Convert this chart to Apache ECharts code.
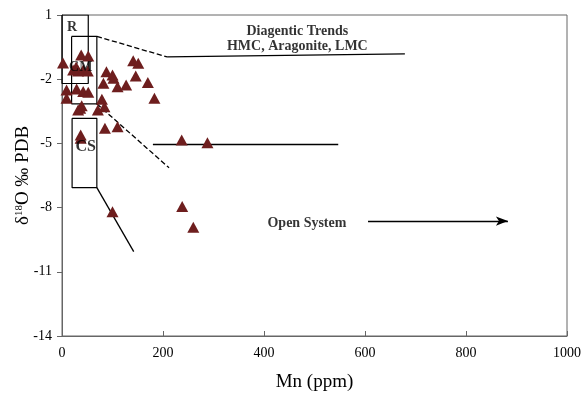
<!DOCTYPE html>
<html><head><meta charset="utf-8">
<script src="https://cdn.jsdelivr.net/npm/echarts@6/dist/echarts.min.js"></script>
<style>html,body{margin:0;padding:0;background:#fff}#c{width:582px;height:396px}</style>
</head><body><div id="c"></div>
<script>
// Mn (ppm) vs d18O (permil PDB)
var mnValues = [2,38,52,22,32,42,51,28,88,100,102,82,110,127,141,151,146,170,183,79,84,9,29,42,52,9,36,39,32,71,85,110,37,37,237,288,100,238,260];
var d18OValues = [-1.24,-0.87,-0.92,-1.57,-1.62,-1.57,-1.62,-1.43,-1.65,-1.8,-1.96,-2.19,-2.35,-2.27,-1.14,-1.26,-1.85,-2.16,-2.89,-2.94,-3.29,-2.5,-2.46,-2.58,-2.61,-2.89,-3.36,-3.24,-3.44,-3.44,-4.29,-4.22,-4.61,-4.76,-4.84,-4.97,-8.19,-7.95,-8.92];
var xTicks = [0,200,400,600,800,1000];
var yTicks = [1,-2,-5,-8,-11,-14];

// annotation boxes [x1,y1,x2,y2]
var boxR = [0,1,52,-2.2];
var boxCM = [19,0,69,-3.15];
var boxCS = [20,-3.83,69,-7.07];
// annotation segments [x1,y1,x2,y2]
var dashedUpper = [69,0,208,-0.96];
var solidUpper = [208,-0.96,679,-0.82];
var dashedLower = [69,-3.15,212,-6.14];
var solidMiddle = [180,-5.05,547,-5.05];
var solidLower = [69,-7.07,142,-10.06];
var arrowOpen = [606,-8.63,883,-8.63];
// text labels [x,y,text]
var labelR = [20,0.44,'R'];
var labelCM = [37,-1.45,'CM'];
var labelCS = [47,-5.17,'CS'];
var labelTrend1 = [466,0.25,'Diagentic Trends'];
var labelTrend2 = [466,-0.45,'HMC, Aragonite, LMC'];
var labelOpen = [485,-8.72,'Open System'];

var F = 'Liberation Serif';
function boxPath(b){return [[b[0],b[1]],[b[2],b[1]],[b[2],b[3]],[b[0],b[3]],[b[0],b[1]]];}
function boxSeries(b){return {type:'line',data:boxPath(b),symbol:'none',silent:true,z:3,lineStyle:{color:'#000',width:1.2},animation:false};}
function seg(s,type,arrow){
  return [{coord:[s[0],s[1]],symbol:'none',lineStyle:{type:type,color:'#000',width:1.3}},{coord:[s[2],s[3]],symbol:arrow?'arrow':'none',symbolSize:arrow?[7,12]:0}];
}
function textSeries(l,size,bold){
  return {type:'scatter',data:[[l[0],l[1]]],symbolSize:0,silent:true,z:10,animation:false,
    label:{show:true,position:'inside',formatter:l[2],fontFamily:F,fontSize:size,fontWeight:bold?'bold':'normal',color:'#000'}};
}
var pts = mnValues.map(function(v,i){return [v,d18OValues[i]];});

var chart = echarts.init(document.getElementById('c'),null,{renderer:'canvas'});
chart.setOption({
  animation:false,
  grid:{left:62,right:15,top:15,bottom:60,containLabel:false,outerBoundsMode:'none',show:true,borderColor:'#666',borderWidth:1,backgroundColor:'transparent'},
  xAxis:{type:'value',min:0,max:1000,interval:200,
    name:'Mn (ppm)',nameLocation:'middle',nameGap:37,nameMoveOverlap:false,nameTextStyle:{fontFamily:F,fontSize:19,color:'#000'},
    axisLine:{onZero:false,lineStyle:{color:'#666'}},axisTick:{inside:true,length:5,lineStyle:{color:'#666'}},
    splitLine:{show:false},axisLabel:{margin:10,fontFamily:F,fontSize:14,color:'#000',
      formatter:function(v){return xTicks.indexOf(v)>=0?String(v):'';}}},
  yAxis:{type:'value',min:-14,max:1,interval:3,
    name:'{a|δ}{s|18}{a|O ‰ PDB}',nameLocation:'middle',nameGap:29,nameRotate:90,nameMoveOverlap:false,
    nameTextStyle:{fontFamily:F,fontSize:19,color:'#000',
      rich:{a:{fontFamily:F,fontSize:19,color:'#000'},s:{fontFamily:F,fontSize:11,color:'#000',verticalAlign:'bottom',padding:[0,0,8,0]}}},
    axisLine:{onZero:false,lineStyle:{color:'#666'}},axisTick:{length:5,lineStyle:{color:'#666'}},
    splitLine:{show:false},axisLabel:{margin:10,fontFamily:F,fontSize:14,color:'#000',
      formatter:function(v){return yTicks.indexOf(v)>=0?String(v):'';}}},
  series:[
    {type:'scatter',data:pts,symbol:'triangle',symbolSize:[12,11],itemStyle:{color:'#6E1E1E',opacity:1},z:5},
    boxSeries(boxR),boxSeries(boxCM),boxSeries(boxCS),
    {type:'line',data:[],silent:true,z:3,
      markLine:{silent:true,animation:false,label:{show:false},symbol:['none','none'],
        data:[seg(dashedUpper,'dashed'),seg(solidUpper,'solid'),seg(dashedLower,'dashed'),seg(solidMiddle,'solid'),seg(solidLower,'solid'),seg(arrowOpen,'solid',true)]}},
    textSeries(labelR,14,true),textSeries(labelCM,14,true),textSeries(labelCS,16,true),
    textSeries(labelTrend1,14,true),textSeries(labelTrend2,14,true),textSeries(labelOpen,14,true)
  ]
});
</script></body></html>
